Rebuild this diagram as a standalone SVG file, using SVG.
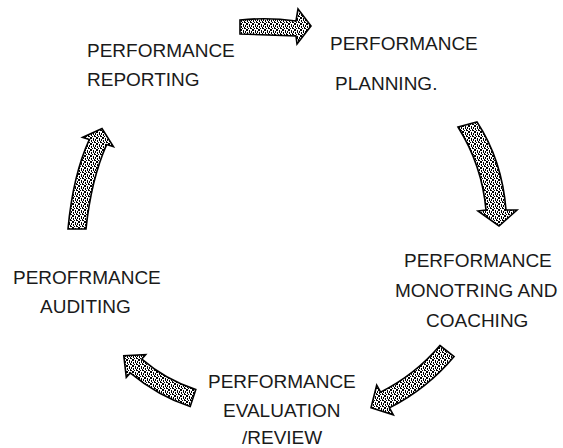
<svg xmlns="http://www.w3.org/2000/svg" width="563" height="448" viewBox="0 0 563 448">
  <style>
    .lbl { font-family: "Liberation Sans", Arial, sans-serif; font-size: 19px; fill: #1a1a1a; }
    .arrow { fill: url(#tex); stroke: #000; stroke-width: 1.6; stroke-linejoin: miter; }
  </style>
  <defs>
    <pattern id="tex" width="6" height="6" patternUnits="userSpaceOnUse">
      <rect width="6" height="6" fill="#fff"/>
      <rect x="0" y="0" width="2" height="1" fill="#000"/>
      <rect x="3" y="0" width="1" height="3" fill="#000"/>
      <rect x="1" y="2" width="1" height="2" fill="#000"/>
      <rect x="4" y="4" width="2" height="1" fill="#000"/>
      <rect x="0" y="5" width="2" height="1" fill="#000"/>
      <rect x="2" y="4" width="1" height="1" fill="#000"/>
      <rect x="5" y="1" width="1" height="2" fill="#000"/>
      <rect x="4" y="3" width="1" height="1" fill="#000"/>
    </pattern>
  </defs>

  <g id="connectors">
    <path id="a-report-plan" class="arrow" d="M240,20 Q268,17 296,21 L298,9 L311,26 L297,44 L296,36 Q268,35 240,34 Z"/>
    <path id="a-plan-monitor" class="arrow" d="M458,127 L477,122 Q502,160 506,210 L517,210 L499,226 L478,211 L486,210 Q482,165 458,127 Z"/>
    <path id="a-monitor-eval" class="arrow" d="M439.9,345.5 L454.1,356.5 A205,205 0 0 1 389.4,407.9 L393.3,414.8 L371,407.8 L376.7,385.2 L380.6,392.1 A187,187 0 0 0 439.9,345.5 Z"/>
    <path id="a-eval-audit" class="arrow" d="M195.8,389.4 Q166,380 141.8,359.1 L145.7,354.6 L123.8,355.7 L126.3,377.4 L130.2,372.9 Q158,396 190.2,406.6 Z"/>
    <path id="a-audit-report" class="arrow" d="M68,229 Q73,175 89.4,139.4 L82.6,137.4 L102,128.6 L113.4,146.6 L106.6,144.6 Q91,180 86,229 Z"/>
  </g>

  <g id="reporting">
    <text class="lbl" x="87" y="57">PERFORMANCE</text>
    <text class="lbl" x="87" y="86">REPORTING</text>
  </g>
  <g id="planning">
    <text class="lbl" x="330" y="50">PERFORMANCE</text>
    <text class="lbl" x="335" y="90">PLANNING.</text>
  </g>
  <g id="monitoring">
    <text class="lbl" x="404" y="267">PERFORMANCE</text>
    <text class="lbl" x="395" y="297">MONOTRING AND</text>
    <text class="lbl" x="426" y="327">COACHING</text>
  </g>
  <g id="auditing">
    <text class="lbl" x="13" y="284">PEROFRMANCE</text>
    <text class="lbl" x="40" y="313">AUDITING</text>
  </g>
  <g id="evaluation">
    <text class="lbl" x="208" y="388">PERFORMANCE</text>
    <text class="lbl" x="223" y="417">EVALUATION</text>
    <text class="lbl" x="242" y="444">/REVIEW</text>
  </g>
</svg>
